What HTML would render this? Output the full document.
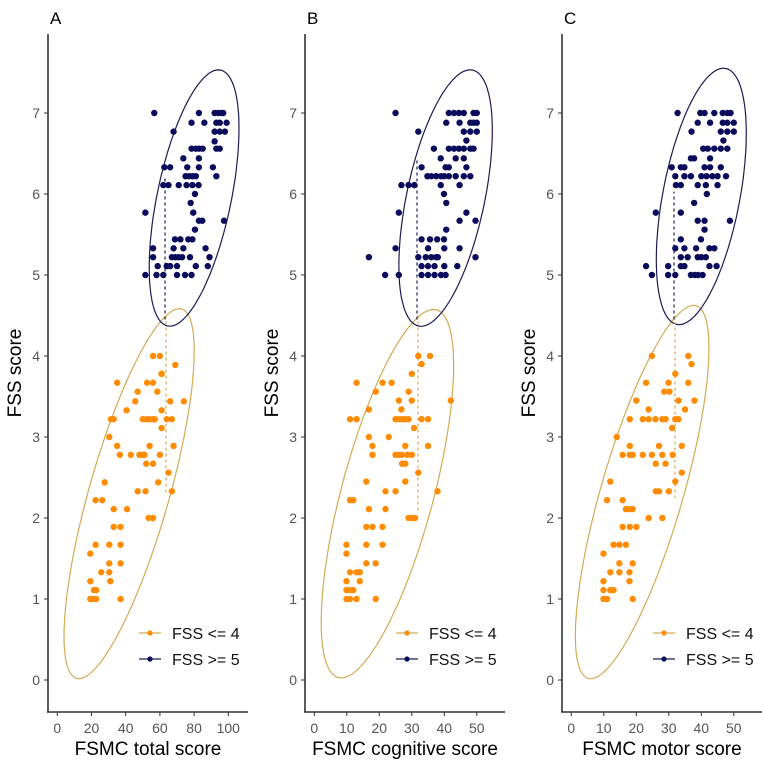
<!DOCTYPE html>
<html><head><meta charset="utf-8">
<style>
html,body{margin:0;padding:0;background:#fff;}
svg{display:block;font-family:"Liberation Sans",sans-serif;}
.tick{fill:#555;font-size:14px;}
.ttl{fill:#000;font-size:19px;}
.leg{fill:#111;font-size:16px;}
</style></head>
<body>
<svg id="chart" width="762" height="762" viewBox="0 0 762 762" xmlns="http://www.w3.org/2000/svg"></svg>
<script>
// ---- data ----
const panelLetters = ["A","B","C"];
const xTitles = ["FSMC total score","FSMC cognitive score","FSMC motor score"];
const xTickLabels = [[0,20,40,60,80,100],[0,10,20,30,40,50],[0,10,20,30,40,50]];
const yTickLabels = [0,1,2,3,4,5,6,7];
const cutoffs = [63,31.6,31.6];
const orangeA = [[35,3.67],[47,3.56],[52.5,3.67],[56,3.67],[45.6,3.44],[58.5,3.56],[61,3.78],[66,3.44],[74,3.44],[40.5,3.33],[31.4,3.22],[33,3.22],[50,3.22],[52,3.22],[54,3.22],[56,3.22],[57,3.22],[64,3.22],[67,3.22],[61,3.33],[61,3.11],[30.4,3.0],[35,2.89],[36.6,2.78],[43,2.78],[48,2.78],[50,2.78],[51,2.78],[54,2.89],[52,2.67],[56,2.67],[60,2.78],[68,2.89],[65,2.56],[27.7,2.44],[59,2.44],[47,2.33],[51.6,2.33],[67,2.33],[22.4,2.22],[26.3,2.22],[33,2.11],[40.8,2.11],[53.4,2.0],[56,2.0],[33,1.89],[37,1.89],[22.4,1.67],[30.4,1.67],[37,1.67],[19.3,1.56],[30.4,1.44],[37,1.44],[25.7,1.33],[30.4,1.33],[31,1.22],[19.3,1.22],[21.4,1.11],[22.8,1.11],[19.3,1.0],[21,1.0],[22.8,1.0],[37,1.0],[56,4.0],[60,4.0],[69,3.89],[61,3.78]];
const blueA = [[56.7,7],[82.8,7],[92,7],[94,7],[96,7],[97,7],[78.5,6.88],[86,6.88],[93,6.88],[95,6.88],[99,6.88],[68,6.77],[92,6.77],[95,6.77],[98,6.77],[92,6.65],[78.5,6.56],[81,6.56],[83,6.56],[85,6.56],[93,6.56],[95,6.56],[73.7,6.44],[82.8,6.44],[62.6,6.33],[66,6.33],[76,6.33],[82.8,6.33],[91,6.33],[75,6.22],[77,6.22],[79,6.22],[81,6.22],[93,6.22],[62,6.11],[65,6.11],[71,6.11],[75.6,6.11],[79,6.11],[82.6,6.11],[80.5,6.0],[78,5.89],[79.5,5.77],[51.5,5.77],[82.8,5.67],[84.8,5.67],[97.5,5.67],[80.5,5.56],[68.8,5.44],[72,5.44],[76.6,5.44],[79,5.44],[56,5.33],[68,5.33],[73.7,5.33],[86.7,5.33],[56,5.22],[67,5.22],[69,5.22],[71,5.22],[73,5.22],[77.6,5.22],[89,5.22],[58.7,5.11],[64,5.11],[66,5.11],[70,5.11],[81,5.11],[88,5.11],[51.5,5],[58,5],[62,5],[70,5],[74.7,5],[78.5,5]];
const orangeB = [[32,4],[35.6,4],[33,3.9],[30,3.78],[13,3.67],[21,3.67],[23.8,3.67],[18.9,3.56],[29,3.56],[26,3.45],[30,3.45],[42,3.45],[16.8,3.34],[26.8,3.34],[11,3.22],[13,3.22],[25,3.22],[26,3.22],[27,3.22],[28,3.22],[29,3.22],[33,3.22],[35,3.22],[30.7,3.11],[16.8,3.0],[22.9,3.0],[17.9,2.89],[28,2.89],[35,2.89],[17.9,2.78],[25,2.78],[26,2.78],[27,2.78],[28.6,2.78],[30,2.78],[27,2.67],[28,2.67],[32,2.56],[16,2.45],[28,2.45],[21.9,2.33],[25,2.33],[37.9,2.33],[11,2.22],[12,2.22],[21.9,2.11],[16.8,2.11],[29,2.0],[30,2.0],[31,2.0],[16,1.89],[17.9,1.89],[21,1.89],[9.9,1.67],[16,1.67],[21,1.67],[9.9,1.56],[16,1.44],[18.9,1.44],[11,1.33],[13,1.33],[14,1.33],[9.9,1.22],[14,1.22],[9.9,1.11],[11,1.11],[12,1.11],[9.9,1.0],[11,1.0],[13,1.0],[18.9,1.0]];
const blueB = [[25,7],[41.4,7],[43,7],[44.5,7],[46,7],[49,7],[50,7],[40.6,6.88],[44.7,6.88],[48,6.88],[49,6.88],[50,6.88],[32,6.77],[46,6.77],[48,6.77],[50,6.77],[46.8,6.66],[36.8,6.56],[41.4,6.56],[43,6.56],[44.5,6.56],[46,6.56],[48,6.56],[49,6.56],[38.9,6.44],[43.5,6.44],[46,6.44],[33,6.33],[40.4,6.33],[41.4,6.33],[46.8,6.33],[34.8,6.22],[36,6.22],[37.5,6.22],[39,6.22],[40,6.22],[41.4,6.22],[43.5,6.22],[46,6.22],[48,6.22],[26.8,6.11],[29,6.11],[30.8,6.11],[38.9,6.11],[44.7,6.11],[39.9,6.0],[40.6,5.89],[26,5.77],[46.8,5.77],[44.7,5.67],[49.6,5.67],[40.6,5.56],[33,5.44],[35.6,5.44],[37.8,5.44],[39.9,5.44],[25,5.33],[35,5.33],[40,5.33],[44.7,5.33],[16.8,5.22],[32,5.22],[34.3,5.22],[36,5.22],[37.5,5.22],[38,5.22],[49.6,5.22],[33,5.11],[35,5.11],[37,5.11],[40,5.11],[44,5.11],[21.8,5],[26,5],[33,5],[35,5],[37,5],[39,5],[40.4,5]];
const orangeC = [[24.8,4],[36,4],[37,3.9],[32,3.78],[23,3.67],[29.9,3.67],[36,3.67],[28.6,3.56],[30.2,3.56],[20,3.45],[37.9,3.45],[33,3.45],[23.8,3.34],[35,3.34],[18,3.22],[22,3.22],[23.8,3.22],[25.9,3.22],[28,3.22],[29,3.22],[32,3.22],[33,3.22],[31,3.11],[14,3.0],[18,2.89],[27,2.89],[34,2.89],[15.8,2.78],[18,2.78],[18.9,2.78],[22,2.78],[24.8,2.78],[28,2.78],[31.2,2.78],[26,2.67],[29,2.67],[34,2.56],[12,2.45],[32,2.45],[26,2.33],[27,2.33],[30,2.33],[11,2.22],[15.8,2.22],[16.8,2.11],[17.9,2.11],[18.9,2.11],[23.8,2.0],[28,2.0],[15.8,1.89],[18,1.89],[20,1.89],[13,1.67],[14.8,1.67],[16.8,1.67],[9.9,1.56],[14.8,1.44],[18.9,1.44],[12,1.33],[14.8,1.33],[17.9,1.33],[9.9,1.22],[17.9,1.22],[9.9,1.11],[12,1.11],[13,1.11],[9.9,1.0],[11,1.0],[18.9,1.0]];
const blueC = [[32.7,7],[39.7,7],[41,7],[44,7],[46.6,7],[48,7],[49,7],[38.9,6.88],[42.7,6.88],[46.6,6.88],[48,6.88],[50,6.88],[37,6.77],[46,6.77],[48,6.77],[50,6.77],[46.8,6.66],[40.6,6.56],[42,6.56],[44,6.56],[46,6.56],[48,6.56],[36.8,6.44],[37.8,6.44],[42.7,6.44],[30.9,6.33],[33.7,6.33],[34.8,6.33],[41,6.33],[42.7,6.33],[46,6.33],[32,6.22],[34.8,6.22],[36.8,6.22],[40,6.22],[41.6,6.22],[43.4,6.22],[45,6.22],[47.6,6.22],[32.2,6.11],[33.7,6.11],[38.9,6.11],[41.4,6.11],[45,6.11],[41.7,6.0],[37.8,5.89],[26,5.77],[33.7,5.77],[38.9,5.67],[41,5.67],[48.8,5.67],[41,5.56],[33.7,5.44],[39.9,5.44],[32,5.33],[34.8,5.33],[38.4,5.33],[42.5,5.33],[44,5.33],[33.7,5.22],[35.8,5.22],[38.9,5.22],[40,5.22],[41.4,5.22],[23,5.11],[29.8,5.11],[33.7,5.11],[34.8,5.11],[42.5,5.11],[44.7,5.11],[24.8,5],[29.8,5],[32,5],[36.8,5],[38,5],[39,5],[40.4,5]];
const orangeSets = [orangeA, orangeB, orangeC];
const blueSets = [blueA, blueB, blueC];
// ellipses (data units): [cx, cy, majorDx, majorDy], minor half-width (px)
const blueEll = [[80,5.95,15.5,1.58],[40.4,5.95,8.3,1.58],[40,5.97,7.5,1.58]];
const orangeEll = [[42,2.3,30.7,2.28],[22.5,2.3,15.1,2.27],[21.8,2.32,16.6,2.3]];
const blueMinor = [37,39,38.5];
const orangeMinor = [40,46,41];
const blueDash = [[4.45,6.2],[4.45,6.44],[4.45,6.03]];
const orangeDash = [[4.5,2.3],[4.5,2.07],[4.5,2.25]];

// ---- layout ----
const NS="http://www.w3.org/2000/svg";
const svg=document.getElementById('chart');
const OR="#ff8c00", BL="#0b0b5c", ORL="#d4aa55", BLL="#1c1c55";
const panelW=257;
function yS(v){return 680-81*v;}
function xS(p,v){const x0=57.3+p*panelW;const k=p===0?1.71:3.25;return x0+k*v;}
function mk(tag,attrs,parent){const e=document.createElementNS(NS,tag);for(const k in attrs)e.setAttribute(k,attrs[k]);(parent||svg).appendChild(e);return e;}

for(let p=0;p<3;p++){
  const ox=p*panelW;
  const g=mk('g',{});
  
  
  const lt=mk('text',{x:ox+50,y:24,'font-size':17,fill:'#000'},g);lt.textContent=panelLetters[p];
  
  
  const ya=mk('line',{x1:ox+48,y1:34,x2:ox+48,y2:712,stroke:'#333','stroke-width':1.6},g);
  
  
  const xa=mk('line',{x1:ox+47,y1:712,x2:ox+248,y2:712,stroke:'#333','stroke-width':1.6},g);
  
  
  yTickLabels.forEach(v=>{
    mk('line',{x1:ox+44,x2:ox+48,y1:yS(v),y2:yS(v),stroke:'#333','stroke-width':1},g);
    const t=mk('text',{x:ox+40,y:yS(v)+5,'text-anchor':'end',class:'tick'},g);t.textContent=v;
    
    
  });
  xTickLabels[p].forEach(v=>{
    mk('line',{x1:xS(p,v),x2:xS(p,v),y1:712,y2:716,stroke:'#333','stroke-width':1},g);
    const t=mk('text',{x:xS(p,v),y:733,'text-anchor':'middle',class:'tick'},g);t.textContent=v;
    
    
  });
  const xt=mk('text',{x:ox+148,y:755,'text-anchor':'middle',class:'ttl'},g);xt.textContent=xTitles[p];
  
  
  const yt=mk('text',{x:0,y:0,'text-anchor':'middle',class:'ttl',transform:`translate(${ox+21},373) rotate(-90)`},g);yt.textContent='FSS score';
  
  
  function ell(e,minor,col,name){
    const cx=xS(p,e[0]),cy=yS(e[1]);
    const mx=xS(p,e[0]+e[2])-cx,my=yS(e[1]+e[3])-cy;
    const L=Math.hypot(mx,my);const nx=-my/L*minor,ny=mx/L*minor;
    let d='';
    for(let i=0;i<=120;i++){const t=i/120*2*Math.PI;const x=cx+Math.cos(t)*mx+Math.sin(t)*nx,y=cy+Math.cos(t)*my+Math.sin(t)*ny;d+=(i?'L':'M')+x.toFixed(1)+' '+y.toFixed(1);}
    const el=mk('path',{d:d+'Z',fill:'none',stroke:col,'stroke-width':1.2},g);
    
    
  }
  ell(orangeEll[p],orangeMinor[p],ORL,'orange-ellipse');
  ell(blueEll[p],blueMinor[p],BLL,'blue-ellipse');
  const dx=xS(p,cutoffs[p]);
  const bd=mk('line',{x1:dx,x2:dx,y1:yS(blueDash[p][0]),y2:yS(blueDash[p][1]),stroke:BLL,'stroke-width':1.2,'stroke-dasharray':'3,3'},g);
  
  
  const od=mk('line',{x1:dx+1,x2:dx+1,y1:yS(orangeDash[p][0]),y2:yS(orangeDash[p][1]),stroke:ORL,'stroke-width':1.2,'stroke-dasharray':'3,3'},g);
  
  
  orangeSets[p].forEach(d=>{
    const c=mk('circle',{cx:xS(p,d[0]),cy:yS(d[1]),r:3.2,fill:OR},g);
    
    
  });
  blueSets[p].forEach(d=>{
    const c=mk('circle',{cx:xS(p,d[0]),cy:yS(d[1]),r:3.2,fill:BL},g);
    
    
  });
  [[OR,ORL,'FSS <= 4',633],[BL,BLL,'FSS >= 5',659]].forEach((L,i)=>{
    const lg=mk('g',{},g);
    
    
    mk('line',{x1:ox+139,x2:ox+161,y1:L[3],y2:L[3],stroke:L[1],'stroke-width':1.3},lg);
    mk('circle',{cx:ox+150,cy:L[3],r:2.6,fill:L[0]},lg);
    const t=mk('text',{x:ox+172,y:L[3]+6,class:'leg'},lg);t.textContent=L[2];
  });
}
</script>
</body></html>
